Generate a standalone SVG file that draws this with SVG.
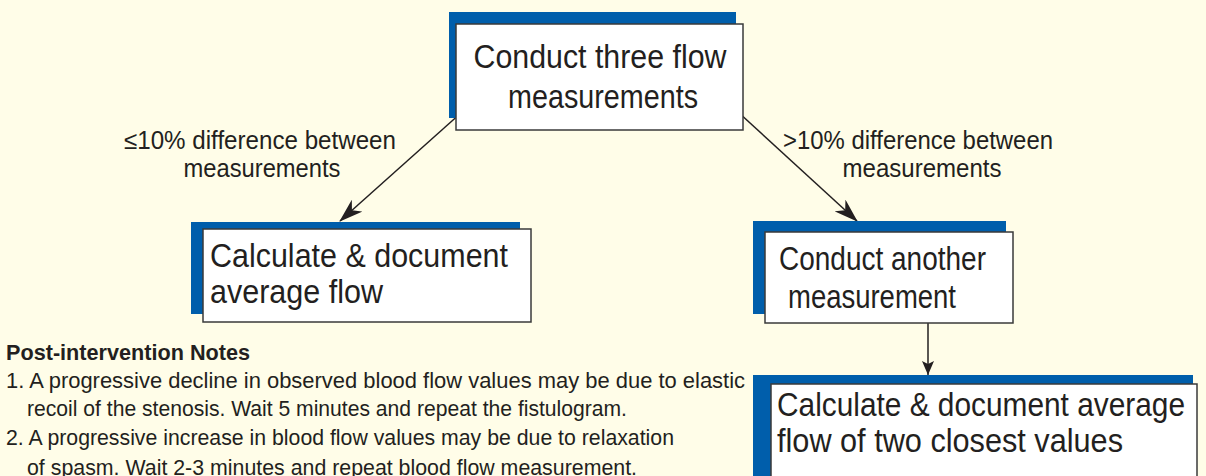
<svg xmlns="http://www.w3.org/2000/svg" width="1206" height="476" viewBox="0 0 1206 476">
<style>
.bg{fill:#FFFDE8}
.shadow{fill:#005EAB}
.box{fill:#FFFFFF;stroke:#3A3A3A;stroke-width:1.5}
.t{font-family:"Liberation Sans",Arial,sans-serif;fill:#231F20}
.big{font-size:34px}
.lbl{font-size:25px}
.note{font-size:22px}
.bold{font-weight:bold}
.edge{stroke:#231F20;stroke-width:1.5;fill:none}
</style>
<defs>
<marker id="arr" viewBox="0 0 24 16" refX="23" refY="8" markerWidth="24" markerHeight="16" markerUnits="userSpaceOnUse" orient="auto">
<path d="M0,0 L24,8 L0,16 L7,8 Z" fill="#231F20"/>
</marker>
<marker id="arrs" viewBox="0 0 14 12" refX="14" refY="6" markerWidth="14" markerHeight="12" markerUnits="userSpaceOnUse" orient="auto">
<path d="M0,0 L14,6 L0,12 L3,6 Z" fill="#231F20"/>
</marker>
</defs>
<rect class="bg" x="0" y="0" width="1206" height="476"/>
<g id="connectors">
<line class="edge" x1="462" y1="112" x2="340" y2="221" marker-end="url(#arr)"/>
<line class="edge" x1="738" y1="112" x2="857" y2="221" marker-end="url(#arr)"/>
<line class="edge" x1="928" y1="323" x2="928" y2="375" marker-end="url(#arrs)"/>
<text class="t lbl" x="260" y="149" text-anchor="middle" textLength="272" lengthAdjust="spacingAndGlyphs">≤10% difference between</text>
<text class="t lbl" x="262" y="177" text-anchor="middle" textLength="157" lengthAdjust="spacingAndGlyphs">measurements</text>
<text class="t lbl" x="918" y="149" text-anchor="middle" textLength="270" lengthAdjust="spacingAndGlyphs">&gt;10% difference between</text>
<text class="t lbl" x="922" y="177" text-anchor="middle" textLength="159" lengthAdjust="spacingAndGlyphs">measurements</text>
</g>
<g id="node-conduct-three">
<rect class="shadow" x="449" y="12" width="287" height="106"/>
<rect class="box" x="456" y="24" width="287" height="106"/>
<text class="t big" x="600" y="68" text-anchor="middle" textLength="253" lengthAdjust="spacingAndGlyphs">Conduct three flow</text>
<text class="t big" x="603" y="108" text-anchor="middle" textLength="190" lengthAdjust="spacingAndGlyphs">measurements</text>
</g>
<g id="node-average">
<rect class="shadow" x="191" y="222" width="329" height="92"/>
<rect class="box" x="203" y="229" width="328" height="93"/>
<text class="t big" x="210" y="267" textLength="298" lengthAdjust="spacingAndGlyphs">Calculate &amp; document</text>
<text class="t big" x="210" y="303" textLength="173" lengthAdjust="spacingAndGlyphs">average flow</text>
</g>
<g id="node-another">
<rect class="shadow" x="753" y="221" width="253" height="93"/>
<rect class="box" x="765" y="232" width="248" height="91"/>
<text class="t big" x="779" y="270" textLength="207" lengthAdjust="spacingAndGlyphs">Conduct another</text>
<text class="t big" x="872" y="308" text-anchor="middle" textLength="168" lengthAdjust="spacingAndGlyphs">measurement</text>
</g>
<g id="node-closest">
<rect class="shadow" x="753" y="375" width="440" height="110"/>
<rect class="box" x="771" y="384" width="426" height="110"/>
<text class="t big" x="777" y="416" textLength="408" lengthAdjust="spacingAndGlyphs">Calculate &amp; document average</text>
<text class="t big" x="777" y="452" textLength="346" lengthAdjust="spacingAndGlyphs">flow of two closest values</text>
</g>
<g id="notes">
<text class="t note bold" x="6" y="360" textLength="244" lengthAdjust="spacingAndGlyphs">Post-intervention Notes</text>
<text class="t note" x="6" y="388" textLength="739" lengthAdjust="spacingAndGlyphs">1. A progressive decline in observed blood flow values may be due to elastic</text>
<text class="t note" x="27" y="416" textLength="600" lengthAdjust="spacingAndGlyphs">recoil of the stenosis. Wait 5 minutes and repeat the fistulogram.</text>
<text class="t note" x="6" y="445" textLength="668" lengthAdjust="spacingAndGlyphs">2. A progressive increase in blood flow values may be due to relaxation</text>
<text class="t note" x="27" y="475" textLength="610" lengthAdjust="spacingAndGlyphs">of spasm. Wait 2-3 minutes and repeat blood flow measurement.</text>
</g>
</svg>
